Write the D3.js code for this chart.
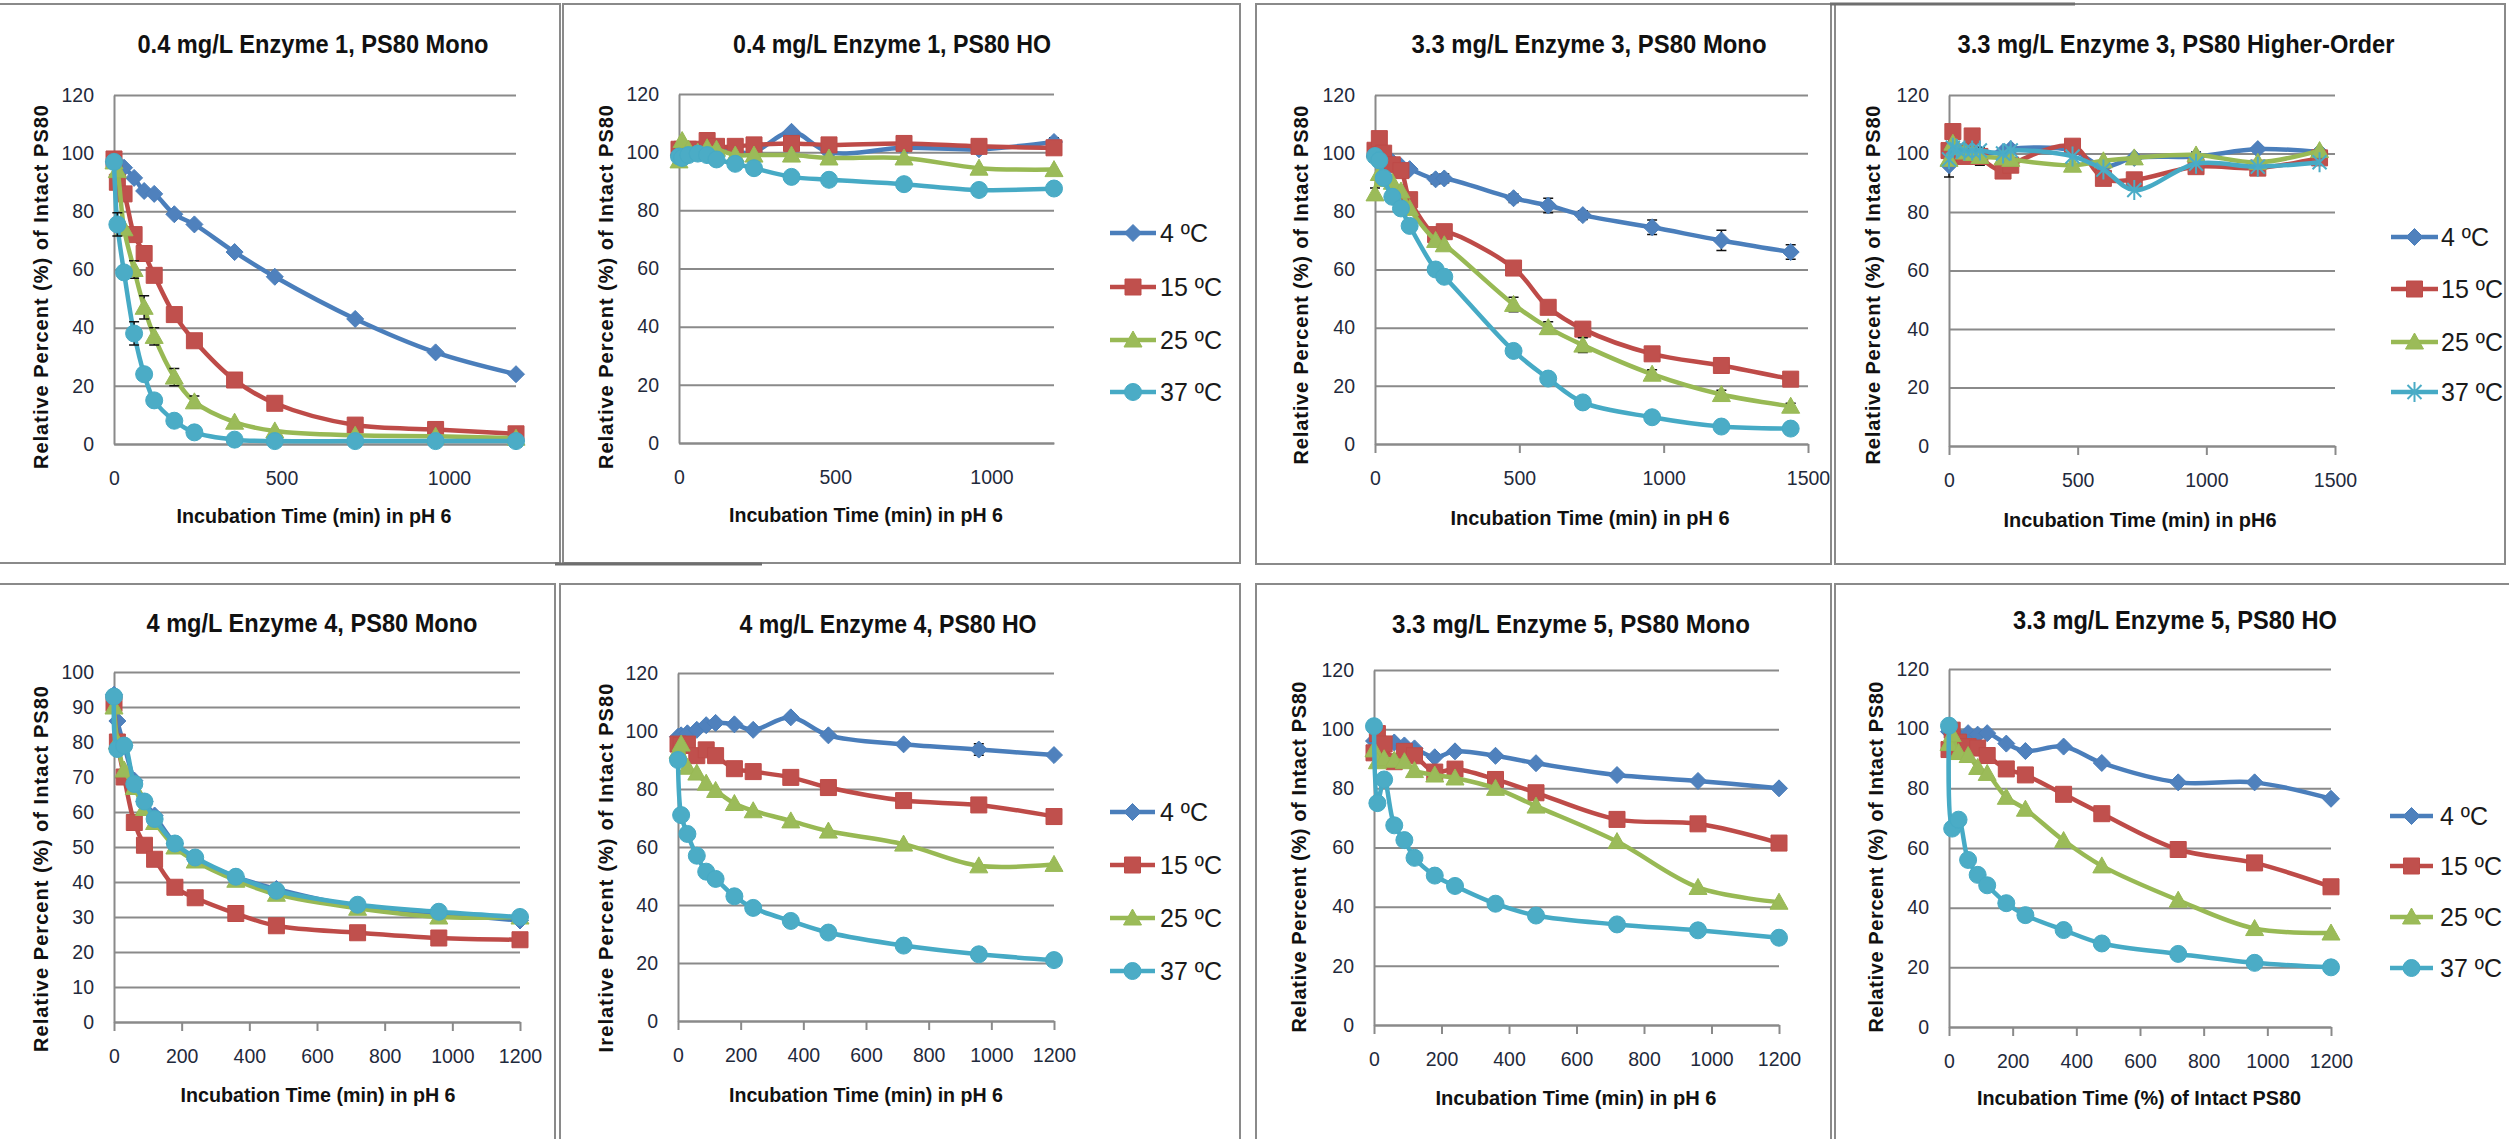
<!DOCTYPE html>
<html>
<head>
<meta charset="utf-8">
<script src="https://cdn.jsdelivr.net/npm/d3@7"></script>
<style>
body { margin: 0; background: #fff; }
svg { display: block; }
</style>
</head>
<body>
<svg id="chart" width="2509" height="1139"></svg>
<script>
// time points (min)
var timesA = [0, 10, 30, 60, 90, 120, 180, 240, 360, 480, 720, 960, 1200];
var timesB = [0, 15, 30, 60, 90, 120, 210, 240, 480, 600, 720, 960, 1200, 1440];
var seriesNames = ["4 ºC", "15 ºC", "25 ºC", "37 ºC"];

// 0.4 mg/L Enzyme 1, PS80 Mono
var p1_4  = [97, 96.5, 95, 91.5, 87, 86, 79, 75.5, 66, 57.5, 43, 31.5, 24];
var p1_15 = [98, 90, 86, 72, 65.5, 58, 44.5, 35.5, 22, 14, 6.5, 5, 3.5];
var p1_25 = [97, 94, 74, 60, 47, 37, 23, 14.5, 7.5, 4.5, 3, 2.7, 2];
var p1_37 = [97, 75.5, 59, 38, 24, 15, 8, 4, 1.5, 1, 1, 1, 1];
var p1_25_err = [0, 0, 0, 3, 4, 3, 3, 2, 0, 0, 0, 0, 0];
var p1_37_err = [0, 4, 0, 4, 2, 0, 0, 0, 0, 0, 0, 0, 0];

// 0.4 mg/L Enzyme 1, PS80 HO
var p2_4  = [99, 100, 101, 100, 102, 101, 100, 100, 107, 100, 101.5, 101, 103.5];
var p2_15 = [101, 101, 101, 101, 104, 102, 102, 102.5, 103, 102.5, 103, 102, 101.5];
var p2_25 = [97, 104, 101, 100, 101.5, 101, 99, 99, 99, 98, 98, 94.5, 94];
var p2_37 = [98.5, 98, 99, 99.5, 99, 97.5, 96, 94.5, 91.5, 90.5, 89, 87, 87.5];
var p2_4_err = [4, 0, 0, 0, 0, 0, 0, 0, 0, 0, 0, 1.5, 1.5];

// 3.3 mg/L Enzyme 3, PS80 Mono
var p3_4  = [99, 98, 97, 97, 95.5, 94.5, 91, 91.3, 84.5, 82, 78.7, 74.5, 70, 66];
var p3_15 = [101, 105, 100, 96, 94, 84, 72, 73, 60.5, 47, 39.5, 31, 27, 22.3];
var p3_25 = [86, 93, 91, 90, 87, 81, 70, 68.5, 48, 40, 34, 24, 17, 13];
var p3_37 = [99, 97.5, 91.5, 85, 81, 75, 60, 57.5, 32, 22.5, 14.3, 9.2, 6, 5.3];
var p3_4_err  = [0, 0, 0, 0, 0, 0, 1.5, 1.5, 1.5, 2.5, 1.5, 2.5, 3.5, 2.5];
var p3_15_err = [0, 0, 0, 0, 0, 0, 0, 0, 2, 0, 0, 0, 0, 0];
var p3_25_err = [2, 0, 0, 0, 0, 0, 0, 0, 2.5, 2, 2.5, 1.5, 1.5, 1];

// 3.3 mg/L Enzyme 3, PS80 Higher-Order
var p4_4  = [96, 103, 101, 101, 100, 100, 100.5, 101.5, 101, 95.5, 98.5, 99, 101.5, 100.5];
var p4_15 = [101, 107.5, 100, 99, 106, 99, 94, 96, 102.5, 91.5, 91, 95.5, 95, 98.5];
var p4_25 = [98, 103.5, 102, 100.5, 100, 99, 98.5, 98, 96, 97.5, 98.5, 99.5, 97, 101];
var p4_37 = [98, 102, 101.5, 101, 101, 101, 100, 101, 99, 94.5, 87.5, 96.5, 95.5, 97];
var p4_4_err  = [4, 0, 0, 0, 0, 0, 0, 0, 0, 0, 0, 1.5, 0, 0];
var p4_15_err = [0, 0, 0, 0, 0, 3, 0, 0, 0, 1.5, 0, 0, 0, 0];

// 4 mg/L Enzyme 4, PS80 Mono
var p5_4  = [93.5, 86, 79, 69, 63, 59, 51, 46.5, 41.5, 38, 33, 31, 29];
var p5_15 = [91, 80, 70, 57, 50.5, 46.5, 38.5, 35.5, 31, 27.5, 25.5, 24, 23.5];
var p5_25 = [90, 80, 72, 67, 61, 57, 50, 46, 40.5, 36.5, 32.5, 30, 30];
var p5_37 = [93, 78, 79, 68, 63, 58, 51, 47, 41.5, 37.5, 33.5, 31.5, 30];

// 4 mg/L Enzyme 4, PS80 HO
var p6_4  = [98, 98.5, 99.2, 100.4, 102, 102.8, 102.3, 100.4, 104.7, 98.5, 95.4, 93.6, 91.7];
var p6_15 = [95.5, 95, 95.5, 91.5, 93.5, 91.5, 87, 86, 84, 80.5, 76, 74.5, 70.5];
var p6_25 = [93, 95.5, 87.5, 85.5, 82, 79.5, 75, 72.5, 69, 65.5, 61, 53.5, 54];
var p6_37 = [90, 71, 64.5, 57, 51.5, 49, 43, 39, 34.5, 30.5, 26, 23, 21];
var p6_4_err = [0, 0, 0, 0, 0, 0, 0, 0, 0, 0, 0, 2, 0];

// 3.3 mg/L Enzyme 5, PS80 Mono
var p7_4  = [96, 95, 95.5, 95.5, 94.5, 93.5, 90.5, 92.5, 91, 88.5, 84.5, 82.5, 80];
var p7_15 = [92, 98.5, 95, 89, 92.5, 91, 85.5, 86.5, 83, 78.5, 69.5, 68, 61.5];
var p7_25 = [93, 89, 90, 89.5, 89, 86, 84.5, 83.5, 80, 74, 62, 46.5, 41.5];
var p7_37 = [101, 75, 83, 67.5, 62.5, 56.5, 50.5, 47, 41, 37, 34, 32, 29.5];

// 3.3 mg/L Enzyme 5, PS80 HO
var p8_4  = [99, 98, 97.5, 98.5, 98, 98.5, 95, 92.5, 94, 88.5, 82, 82, 76.5];
var p8_15 = [93, 99.5, 95.5, 94, 93.5, 91, 86.5, 84.5, 78, 71.5, 59.5, 55, 47];
var p8_25 = [95, 98, 92, 91, 87, 85, 77, 73, 62.5, 54, 42.5, 33, 31.5];
var p8_37 = [101, 66.5, 69.5, 56, 51, 47.5, 41.5, 37.5, 32.5, 28, 24.5, 21.5, 20];

var FONT = '"Liberation Sans", Arial, sans-serif';
var lineColors = ["#4a7ebb", "#be4b48", "#98b954", "#46aac5"];
var fillColors = ["#4f81bd", "#c0504d", "#9bbb59", "#4bacc6"];
var gridColor = "#8a8a8a";
var shapesStd = ["diamond", "square", "triangle", "circle"];
var shapesStar = ["diamond", "square", "triangle", "star"];
var ylabStd = "Relative Percent (%) of Intact PS80";
var xlabStd = "Incubation Time (min) in pH 6";

var panels = [
  {box: [-2, 4, 560, 563], x0: 114, x1: 516, yT: 95, yB: 444, yMax: 120, yStep: 20, xMax: 1200, xTicks: [0, 500, 1000], tickMarks: false,
   title: "0.4 mg/L Enzyme 1, PS80 Mono", tW: 351, tX: 313, tY: 53,
   ylab: ylabStd, ylX: 41, ylY: 287, ylLen: 364, xlab: xlabStd, xlX: 314, xlY: 523, xlW: 275,
   times: timesA, data: [p1_4, p1_15, p1_25, p1_37], errs: [null, null, p1_25_err, p1_37_err], shapes: shapesStd, legend: null},
  {box: [563, 4, 1240, 563], x0: 679, x1: 1054, yT: 94, yB: 443, yMax: 120, yStep: 20, xMax: 1200, xTicks: [0, 500, 1000], tickMarks: false,
   title: "0.4 mg/L Enzyme 1, PS80 HO", tW: 318, tX: 892, tY: 53,
   ylab: ylabStd, ylX: 606, ylY: 287, ylLen: 364, xlab: xlabStd, xlX: 866, xlY: 522, xlW: 274,
   times: timesA, data: [p2_4, p2_15, p2_25, p2_37], errs: [p2_4_err, null, null, null], shapes: shapesStd,
   legend: {lx0: 1110, lx1: 1156, tx: 1160, ys: [233, 287, 340, 392]}},
  {box: [1256, 4, 1831, 564], x0: 1375, x1: 1808, yT: 95, yB: 444, yMax: 120, yStep: 20, xMax: 1500, xTicks: [0, 500, 1000, 1500], tickMarks: true,
   title: "3.3 mg/L Enzyme 3, PS80 Mono", tW: 355, tX: 1589, tY: 53,
   ylab: ylabStd, ylX: 1301, ylY: 285, ylLen: 359, xlab: xlabStd, xlX: 1590, xlY: 525, xlW: 279,
   times: timesB, data: [p3_4, p3_15, p3_25, p3_37], errs: [p3_4_err, p3_15_err, p3_25_err, null], shapes: shapesStd, legend: null},
  {box: [1835, 4, 2505, 564], x0: 1949, x1: 2335, yT: 95, yB: 446, yMax: 120, yStep: 20, xMax: 1500, xTicks: [0, 500, 1000, 1500], tickMarks: true,
   title: "3.3 mg/L Enzyme 3, PS80 Higher-Order", tW: 437, tX: 2176, tY: 53,
   ylab: ylabStd, ylX: 1873, ylY: 285, ylLen: 359, xlab: "Incubation Time (min) in pH6", xlX: 2140, xlY: 527, xlW: 273,
   times: timesB, data: [p4_4, p4_15, p4_25, p4_37], errs: [p4_4_err, p4_15_err, null, null], shapes: shapesStar,
   legend: {lx0: 2391, lx1: 2438, tx: 2441, ys: [237, 289, 342, 392]}},
  {box: [-2, 584, 555, 1141], x0: 114, x1: 520, yT: 672, yB: 1022, yMax: 100, yStep: 10, xMax: 1200, xTicks: d3.range(0, 1201, 200), tickMarks: true,
   title: "4 mg/L Enzyme 4, PS80 Mono", tW: 331, tX: 312, tY: 632,
   ylab: ylabStd, ylX: 41, ylY: 869, ylLen: 366, xlab: xlabStd, xlX: 318, xlY: 1102, xlW: 275,
   times: timesA, data: [p5_4, p5_15, p5_25, p5_37], errs: [null, null, null, null], shapes: shapesStd, legend: null},
  {box: [560, 584, 1240, 1141], x0: 678, x1: 1054, yT: 673, yB: 1021, yMax: 120, yStep: 20, xMax: 1200, xTicks: d3.range(0, 1201, 200), tickMarks: true,
   title: "4 mg/L Enzyme 4, PS80 HO", tW: 297, tX: 888, tY: 633,
   ylab: "Irelative Percent (%) of Intact PS80", ylX: 606, ylY: 868, ylLen: 369, xlab: xlabStd, xlX: 866, xlY: 1102, xlW: 274,
   times: timesA, data: [p6_4, p6_15, p6_25, p6_37], errs: [p6_4_err, null, null, null], shapes: shapesStd,
   legend: {lx0: 1110, lx1: 1155, tx: 1160, ys: [812, 865, 918, 971]}},
  {box: [1256, 584, 1831, 1141], x0: 1374, x1: 1779, yT: 670, yB: 1025, yMax: 120, yStep: 20, xMax: 1200, xTicks: d3.range(0, 1201, 200), tickMarks: true,
   title: "3.3 mg/L Enzyme 5, PS80 Mono", tW: 358, tX: 1571, tY: 633,
   ylab: ylabStd, ylX: 1299, ylY: 857, ylLen: 351, xlab: xlabStd, xlX: 1576, xlY: 1105, xlW: 281,
   times: timesA, data: [p7_4, p7_15, p7_25, p7_37], errs: [null, null, null, null], shapes: shapesStd, legend: null},
  {box: [1835, 584, 2512, 1141], x0: 1949, x1: 2331, yT: 669, yB: 1027, yMax: 120, yStep: 20, xMax: 1200, xTicks: d3.range(0, 1201, 200), tickMarks: true,
   title: "3.3 mg/L Enzyme 5, PS80 HO", tW: 324, tX: 2175, tY: 629,
   ylab: ylabStd, ylX: 1876, ylY: 857, ylLen: 351, xlab: "Incubation Time (%) of Intact PS80", xlX: 2139, xlY: 1105, xlW: 324,
   times: timesA, data: [p8_4, p8_15, p8_25, p8_37], errs: [null, null, null, null], shapes: shapesStd,
   legend: {lx0: 2390, lx1: 2433, tx: 2440, ys: [816, 866, 917, 968]}}
];

var svg = d3.select("#chart");

function drawMarker(g, shape, x, y, i) {
  if (shape == "circle") {
    g.append("circle").attr("cx", x).attr("cy", y).attr("r", 8.5)
      .attr("fill", fillColors[i]).attr("stroke", lineColors[i]).attr("stroke-width", 1);
  } else if (shape == "star") {
    g.append("path").attr("transform", "translate(" + x + "," + y + ")")
      .attr("d", "M-7,-7L7,7M7,-7L-7,7M0,-10V10")
      .attr("stroke", fillColors[i]).attr("stroke-width", 2).attr("fill", "none");
  } else {
    var d;
    if (shape == "diamond") d = "M0,-8.5L8.5,0L0,8.5L-8.5,0Z";
    if (shape == "square") d = "M-8,-8H8V8H-8Z";
    if (shape == "triangle") d = "M0,-9L9,7H-9Z";
    g.append("path").attr("transform", "translate(" + x + "," + y + ")").attr("d", d)
      .attr("fill", fillColors[i]).attr("stroke", lineColors[i]).attr("stroke-width", 1);
  }
}

panels.forEach(function (p) {
  var g = svg.append("g");

  g.append("rect")
    .attr("x", p.box[0]).attr("y", p.box[1])
    .attr("width", p.box[2] - p.box[0]).attr("height", p.box[3] - p.box[1])
    .attr("fill", "none").attr("stroke", gridColor).attr("stroke-width", 2);

  var x = d3.scaleLinear().domain([0, p.xMax]).range([p.x0, p.x1]);
  var y = d3.scaleLinear().domain([0, p.yMax]).range([p.yB, p.yT]);

  // y axis + gridlines
  var yAxis = d3.axisLeft(y)
    .tickValues(d3.range(0, p.yMax + 1, p.yStep)).tickFormat(d3.format("d"))
    .tickSize(-(p.x1 - p.x0)).tickSizeOuter(0).tickPadding(20);
  var ya = g.append("g").attr("transform", "translate(" + p.x0 + ",0)").call(yAxis);
  ya.attr("color", gridColor).attr("font-family", FONT).attr("font-size", 19.5);
  ya.selectAll("line").attr("stroke-width", 2);
  ya.select(".domain").attr("stroke-width", 2);
  ya.selectAll("text").attr("fill", "#1f2a3c");

  // x axis
  var ts = p.tickMarks ? 9 : 0;
  var xAxis = d3.axisBottom(x).tickValues(p.xTicks).tickFormat(d3.format("d"))
    .tickSize(ts).tickSizeOuter(0).tickPadding(27 - ts);
  var xa = g.append("g").attr("transform", "translate(0," + p.yB + ")").call(xAxis);
  xa.attr("color", gridColor).attr("font-family", FONT).attr("font-size", 19.5);
  xa.selectAll("line").attr("stroke-width", 2);
  xa.select(".domain").attr("stroke-width", 2);
  xa.selectAll("text").attr("fill", "#1f2a3c");

  // titles
  g.append("text").attr("x", p.tX).attr("y", p.tY)
    .attr("text-anchor", "middle").attr("font-family", FONT).attr("font-size", 25)
    .attr("font-weight", "bold").attr("fill", "#111")
    .attr("textLength", p.tW).attr("lengthAdjust", "spacingAndGlyphs")
    .text(p.title);

  g.append("text")
    .attr("transform", "translate(" + p.ylX + "," + p.ylY + ") rotate(-90)")
    .attr("dy", "0.35em").attr("text-anchor", "middle")
    .attr("font-family", FONT).attr("font-size", 20).attr("font-weight", "bold").attr("fill", "#111")
    .attr("textLength", p.ylLen).attr("lengthAdjust", "spacing")
    .text(p.ylab);

  g.append("text").attr("x", p.xlX).attr("y", p.xlY)
    .attr("text-anchor", "middle").attr("font-family", FONT).attr("font-size", 21)
    .attr("font-weight", "bold").attr("fill", "#111")
    .attr("textLength", p.xlW).attr("lengthAdjust", "spacingAndGlyphs")
    .text(p.xlab);

  // series
  var line = d3.line().curve(d3.curveCatmullRom.alpha(0.5))
    .x(function (d) { return x(d[0]); })
    .y(function (d) { return y(d[1]); });

  p.data.forEach(function (vals, i) {
    var pts = vals.map(function (v, k) { return [p.times[k], v]; });
    g.append("path").datum(pts).attr("d", line)
      .attr("fill", "none").attr("stroke", lineColors[i]).attr("stroke-width", 4.5)
      .attr("stroke-linejoin", "round");

    var err = p.errs[i];
    if (err) {
      pts.forEach(function (d, k) {
        if (!err[k]) return;
        var cx = x(d[0]), lo = y(d[1] - err[k]), hi = y(d[1] + err[k]);
        g.append("path")
          .attr("d", "M" + cx + "," + lo + "V" + hi + "M" + (cx - 5) + "," + lo + "H" + (cx + 5) + "M" + (cx - 5) + "," + hi + "H" + (cx + 5))
          .attr("stroke", "#111").attr("stroke-width", 1.5).attr("fill", "none");
      });
    }

    pts.forEach(function (d) {
      drawMarker(g, p.shapes[i], x(d[0]), y(d[1]), i);
    });
  });

  // legend
  if (p.legend) {
    var L = p.legend;
    seriesNames.forEach(function (name, i) {
      var ly = L.ys[i];
      g.append("line").attr("x1", L.lx0).attr("x2", L.lx1).attr("y1", ly).attr("y2", ly)
        .attr("stroke", lineColors[i]).attr("stroke-width", 4.5);
      drawMarker(g, p.shapes[i], (L.lx0 + L.lx1) / 2, ly, i);
      g.append("text").attr("x", L.tx).attr("y", ly + 9)
        .attr("font-family", FONT).attr("font-size", 25).attr("fill", "#1a1a1a")
        .text(name);
    });
  }
});

// darker border pieces seen in the original scan
svg.append("line").attr("x1", 555).attr("x2", 762).attr("y1", 564).attr("y2", 564)
  .attr("stroke", "#6e6e6e").attr("stroke-width", 3);
svg.append("line").attr("x1", 1830).attr("x2", 2075).attr("y1", 4).attr("y2", 4)
  .attr("stroke", "#6e6e6e").attr("stroke-width", 3);
</script>
</body>
</html>
